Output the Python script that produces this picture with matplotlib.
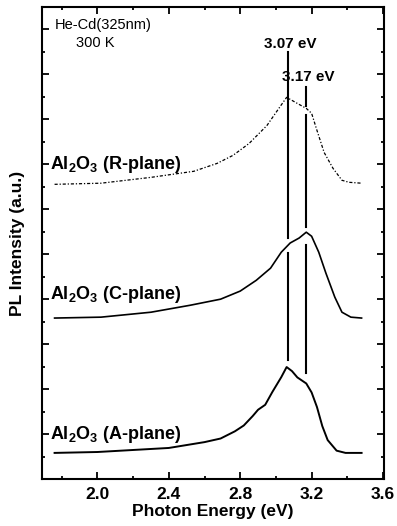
import matplotlib
matplotlib.use("Agg")
import matplotlib.pyplot as plt
from matplotlib.ticker import MultipleLocator

plt.rcParams['font.family'] = ['Liberation Sans', 'DejaVu Sans']
plt.rcParams['mathtext.fontset'] = 'custom'
plt.rcParams['mathtext.rm'] = 'Liberation Sans'
plt.rcParams['mathtext.bf'] = 'Liberation Sans:bold'

# PL spectra (energy in eV, intensity in arbitrary units, offset)
e_a = [1.76, 2.00, 2.40, 2.60, 2.69, 2.77, 2.82, 2.87, 2.90, 2.94, 2.98, 3.03, 3.06,
       3.09, 3.12, 3.17, 3.20, 3.23, 3.26, 3.29, 3.34, 3.39, 3.48]
i_a = [1.16, 1.20, 1.38, 1.64, 1.80, 2.12, 2.38, 2.80, 3.08, 3.30, 3.87, 4.53, 4.98,
       4.80, 4.52, 4.25, 3.85, 3.20, 2.35, 1.73, 1.26, 1.16, 1.16]

e_c = [1.76, 2.02, 2.30, 2.52, 2.69, 2.80, 2.89, 2.97, 3.03, 3.08, 3.13, 3.17, 3.20,
       3.24, 3.28, 3.33, 3.37, 3.42, 3.48]
i_c = [7.16, 7.20, 7.42, 7.73, 8.00, 8.36, 8.84, 9.38, 10.09, 10.50, 10.72, 10.98, 10.80,
       10.09, 9.16, 8.09, 7.42, 7.20, 7.16]

e_r = [1.76, 2.02, 2.30, 2.54, 2.67, 2.76, 2.85, 2.95, 3.02, 3.06, 3.12, 3.17, 3.20,
       3.23, 3.27, 3.32, 3.37, 3.41, 3.48]
i_r = [13.11, 13.16, 13.42, 13.69, 14.04, 14.40, 14.93, 15.73, 16.53, 16.98, 16.71, 16.49, 16.27,
       15.51, 14.53, 13.82, 13.29, 13.20, 13.16]

labels = [r'Al$_\mathbf{2}$O$_\mathbf{3}$ (R-plane)',
          r'Al$_\mathbf{2}$O$_\mathbf{3}$ (C-plane)',
          r'Al$_\mathbf{2}$O$_\mathbf{3}$ (A-plane)']
label_y = [14.0, 8.2, 2.0]

# peak marker lines (segments broken where they cross the spectra)
peaks = [3.07, 3.17]
peak_text = ['3.07 eV', '3.17 eV']
peak_text_y = [19.35, 17.9]
seg_307 = [(5.3, 10.05), (10.7, 19.0)]
seg_317 = [(4.7, 10.4), (11.2, 16.2), (16.6, 17.45)]

fig = plt.figure(figsize=(3.97, 5.26), dpi=100)
ax = fig.add_axes([0.106, 0.0894, 0.861, 0.8973])

ax.plot(e_a, i_a, color='black', lw=1.4)
ax.plot(e_c, i_c, color='black', lw=1.2)
ax.plot(e_r, i_r, color='black', lw=0.9, linestyle=(0, (2.5, 1.5, 1, 1.5)))

for lo, hi in seg_307:
    ax.plot([peaks[0], peaks[0]], [lo, hi], color='black', lw=1.5)
for lo, hi in seg_317:
    ax.plot([peaks[1], peaks[1]], [lo, hi], color='black', lw=1.5)

for x, s, y in zip(peaks, peak_text, peak_text_y):
    ax.text(x + 0.01, y, s, ha='center', va='center', fontsize=11, fontweight='bold')

for s, y in zip(labels, label_y):
    ax.text(1.735, y, s, ha='left', va='center', fontsize=13, fontweight='bold')

ax.text(1.76, 20.2, 'He-Cd(325nm)', ha='left', va='center', fontsize=10.5)
ax.text(1.88, 19.4, '300 K', ha='left', va='center', fontsize=10.5)

ax.set_xlim(1.69, 3.605)
ax.set_ylim(0, 21)
ax.xaxis.set_major_locator(MultipleLocator(0.4))
ax.xaxis.set_minor_locator(MultipleLocator(0.2))
ax.yaxis.set_major_locator(MultipleLocator(2))
ax.yaxis.set_minor_locator(MultipleLocator(1))
ax.set_yticklabels([])
ax.tick_params(which='both', direction='in', top=True, right=True, width=1.3)
ax.tick_params(which='major', length=5)
ax.tick_params(which='minor', length=2.5)
ax.tick_params(axis='x', labelsize=12.5, pad=6)
for lab in ax.get_xticklabels():
    lab.set_fontweight('bold')
for sp in ax.spines.values():
    sp.set_linewidth(1.5)

ax.set_xlabel('Photon Energy (eV)', fontsize=12.5, fontweight='bold', labelpad=1)
ax.set_ylabel('PL Intensity (a.u.)', fontsize=12.5, fontweight='bold', labelpad=9)

fig.savefig('out.png', dpi=100)
